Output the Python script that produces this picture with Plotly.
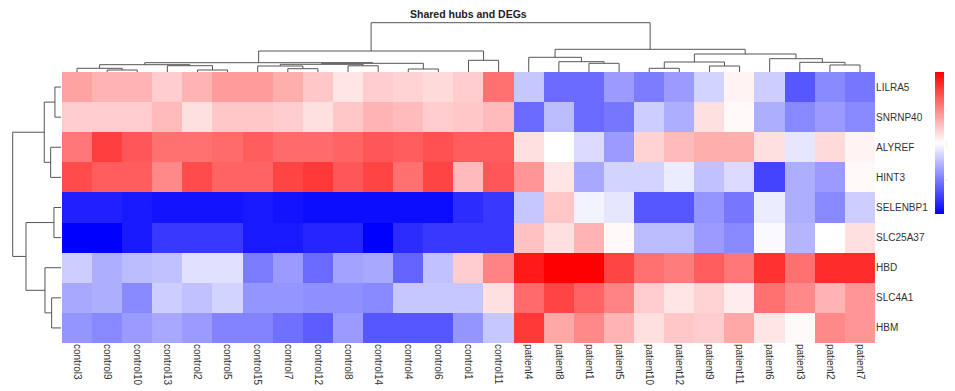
import plotly.graph_objects as go

# ---------------- data ----------------
columns = ["control3", "control9", "control10", "control13", "control2", "control5", "control15",
           "control7", "control12", "control8", "control14", "control4", "control6", "control1",
           "control11", "patient4", "patient8", "patient1", "patient5", "patient10", "patient12",
           "patient9", "patient11", "patient6", "patient3", "patient2", "patient7"]
genes = ["LILRA5", "SNRNP40", "ALYREF", "HINT3", "SELENBP1", "SLC25A37", "HBD", "SLC4A1", "HBM"]

LILRA5 = [7.6, 7.3, 7.3, 6.9, 7.3, 7.7, 7.7, 7.4, 7.0, 6.5, 6.9, 6.8, 6.7, 6.9, 8.4,
          5.2, 3.7, 3.7, 4.5, 4.0, 4.5, 5.4, 6.3, 5.3, 3.4, 4.2, 3.9]
SNRNP40 = [6.9, 6.9, 6.9, 7.2, 6.6, 7.0, 7.0, 6.9, 6.6, 7.0, 7.3, 7.2, 6.9, 7.0, 7.2,
           3.7, 5.0, 3.7, 3.9, 5.3, 4.8, 6.6, 6.2, 4.8, 4.2, 4.5, 4.2]
ALYREF = [8.3, 9.2, 8.8, 8.4, 8.4, 8.5, 8.7, 8.5, 8.5, 8.6, 8.8, 8.7, 8.9, 8.7, 8.7,
          6.6, 6.1, 5.5, 4.5, 6.8, 7.2, 7.4, 7.4, 6.6, 5.7, 6.7, 6.3]
HINT3 = [9.0, 8.7, 8.7, 8.0, 9.0, 8.6, 8.6, 9.1, 9.3, 8.8, 9.1, 8.4, 9.1, 7.2, 8.8,
         7.8, 6.5, 4.7, 5.4, 5.4, 5.8, 5.1, 5.5, 3.1, 4.8, 4.5, 6.2]
SELENBP1 = [2.5, 2.5, 2.4, 2.3, 2.3, 2.3, 2.4, 2.3, 2.2, 2.2, 2.2, 2.2, 2.2, 2.7, 2.9,
            5.2, 7.0, 5.9, 5.7, 3.4, 3.4, 4.4, 3.9, 5.8, 4.8, 4.2, 5.3]
SLC25A37 = [2.0, 2.0, 2.4, 2.9, 2.9, 2.9, 2.4, 2.4, 2.6, 2.6, 2.0, 2.7, 2.9, 2.9, 2.9,
            7.1, 6.6, 7.3, 6.2, 5.0, 5.0, 4.5, 4.2, 6.0, 4.9, 6.1, 6.6]
HBD = [5.3, 4.8, 5.0, 5.1, 5.6, 5.6, 4.0, 4.5, 3.7, 4.6, 4.7, 3.6, 5.1, 6.9, 8.1,
       9.8, 10.2, 10.2, 9.1, 8.4, 8.2, 8.7, 8.3, 9.4, 8.4, 9.5, 9.5]
SLC4A1 = [4.7, 4.8, 4.2, 5.3, 5.1, 5.4, 4.4, 4.4, 4.3, 4.3, 4.2, 5.2, 5.2, 5.2, 6.6,
          8.5, 9.1, 8.6, 8.1, 6.9, 6.5, 6.8, 6.4, 8.4, 8.0, 7.3, 7.8]
HBM = [4.4, 4.2, 4.5, 4.7, 4.5, 4.1, 4.1, 3.8, 3.5, 4.5, 3.4, 3.4, 3.4, 4.4, 5.2,
       9.3, 7.5, 8.0, 7.3, 6.6, 7.0, 6.9, 7.5, 6.5, 6.2, 8.0, 7.8]

colorbar_ticks = [4, 6, 8, 10]

# column dendrogram merges: (id, left, right, height); ids refer to leaves or earlier merges
col_merges = [
    ("a", "control9", "control10", 2.0),
    ("b", "control3", "a", 3.7),
    ("c", "control2", "control5", 2.0),
    ("d", "control13", "c", 6.3),
    ("e", "b", "d", 7.3),
    ("f", "control7", "control12", 3.3),
    ("g", "control15", "f", 6.0),
    ("h", "control8", "control14", 6.2),
    ("i", "g", "h", 7.7),
    ("j", "control4", "control6", 3.0),
    ("k", "i", "j", 8.7),
    ("l", "e", "k", 9.3),
    ("m", "control1", "control11", 11.7),
    ("n", "l", "m", 21.0),
    ("p1", "patient1", "patient5", 8.7),
    ("p2", "patient8", "p1", 10.3),
    ("p3", "patient4", "p2", 14.7),
    ("p4", "patient10", "patient12", 3.7),
    ("p5", "patient9", "patient11", 6.0),
    ("p6", "p4", "p5", 10.0),
    ("p7", "patient2", "patient7", 7.0),
    ("p8", "patient3", "p7", 9.7),
    ("p9", "patient6", "p8", 13.3),
    ("p10", "p6", "p9", 18.0),
    ("p11", "p3", "p10", 22.7),
    ("root", "n", "p11", 49.3),
]

row_merges = [
    ("r1", "LILRA5", "SNRNP40", 6.0),
    ("r2", "ALYREF", "HINT3", 10.3),
    ("r3", "r1", "r2", 16.7),
    ("r4", "SELENBP1", "SLC25A37", 7.0),
    ("r5", "SLC4A1", "HBM", 9.3),
    ("r6", "HBD", "r5", 16.0),
    ("r7", "r4", "r6", 35.0),
    ("r8", "r3", "r7", 48.3),
]

# ---------------- helpers ----------------
def dendro_segments(leaves, merges):
    pos = {name: float(i) for i, name in enumerate(leaves)}
    hgt = {name: 0.0 for name in leaves}
    xs, ys = [], []
    for nid, left, right, h in merges:
        xl, xr = pos[left], pos[right]
        xs += [xl, xl, xr, xr, None]
        ys += [hgt[left], h, h, hgt[right], None]
        pos[nid] = (xl + xr) / 2
        hgt[nid] = h
    return xs, ys

# the page body has an 8px margin: the figure is shrunk and page pixels shifted by 8
OFF = 8
W, H = 955 - OFF, 391 - OFF
def px(x):
    return (x - OFF) / W
def py(y):
    return 1 - (y - OFF) / H

z = [LILRA5, SNRNP40, ALYREF, HINT3, SELENBP1, SLC25A37, HBD, SLC4A1, HBM]

fig = go.Figure()
fig.add_trace(go.Heatmap(
    z=z, x=list(range(len(columns))), y=list(range(len(genes))),
    zmin=2.0, zmax=10.2,
    colorscale=[[0, "rgb(0,0,255)"], [0.5, "rgb(255,255,255)"], [1, "rgb(255,0,0)"]],
    colorbar=dict(x=px(935), xanchor="left", y=py(72), yanchor="top",
                  len=142 / H, lenmode="fraction", thickness=9, thicknessmode="pixels",
                  xpad=0, ypad=0, outlinewidth=0, ticks="", tickvals=colorbar_ticks,
                  tickfont=dict(family="Liberation Sans, Arial", size=10, color="#333")),
    xgap=0, ygap=0, hoverinfo="skip",
))

cx, cy = dendro_segments(columns, col_merges)
fig.add_trace(go.Scatter(x=cx, y=cy, xaxis="x", yaxis="y2", mode="lines",
                         line=dict(color="#555555", width=1), hoverinfo="skip",
                         showlegend=False, cliponaxis=False))

ry, rx = dendro_segments(genes, row_merges)
fig.add_trace(go.Scatter(x=rx, y=ry, xaxis="x3", yaxis="y", mode="lines",
                         line=dict(color="#555555", width=1), hoverinfo="skip",
                         showlegend=False, cliponaxis=False))

tickfont = dict(family="Liberation Sans, Arial", size=10, color="#333")
fig.update_layout(
    width=W, height=H, margin=dict(l=0, r=0, t=0, b=0),
    paper_bgcolor="white", plot_bgcolor="white", showlegend=False,
    xaxis=dict(domain=[px(62), px(876)], range=[-0.5, len(columns) - 0.5], anchor="y",
               tickvals=list(range(len(columns))), ticktext=columns, tickangle=90,
               tickfont=tickfont, showgrid=False, zeroline=False, ticks="", showline=False),
    yaxis=dict(domain=[py(343), py(72)], range=[len(genes) - 0.5, -0.5], anchor="x",
               side="right", tickvals=list(range(len(genes))), ticktext=genes,
               tickfont=tickfont, showgrid=False, zeroline=False, ticks="", showline=False),
    yaxis2=dict(domain=[py(72), py(20)], range=[0, 52], anchor="x", visible=False),
    xaxis3=dict(domain=[px(OFF), px(62)], range=[61 - OFF, -1], anchor="y", visible=False),
    annotations=[dict(text="<b>Shared hubs and DEGs</b>", x=px(469), y=py(14),
                      xref="paper", yref="paper", xanchor="center", yanchor="middle",
                      showarrow=False,
                      font=dict(family="Liberation Sans, Arial", size=10.5, color="#222"))],
)

fig.write_html("out.html")
